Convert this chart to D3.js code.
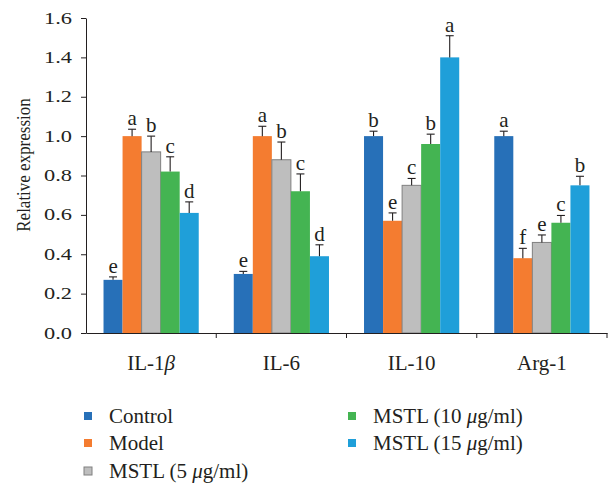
<!DOCTYPE html>
<html><head><meta charset="utf-8">
<script src="https://cdn.jsdelivr.net/npm/d3@7"></script>
<style>body{margin:0;background:#fff}svg{display:block}text{font-family:"Liberation Serif","DejaVu Serif",serif;fill:#231f20}</style>
</head><body><svg id="c" width="611" height="485"></svg>
<script>
const categories = ["IL-1β", "IL-6", "IL-10", "Arg-1"];
const seriesNames = ["Control", "Model", "MSTL (5 μg/ml)", "MSTL (10 μg/ml)", "MSTL (15 μg/ml)"];
const colors = ["#2770b8", "#f47c30", "#bebebe", "#44b452", "#1f9fd9"];
const control = [0.27, 0.30, 1.00, 1.00];
const model   = [1.00, 1.00, 0.57, 0.38];
const mstl5   = [0.92, 0.88, 0.75, 0.46];
const mstl10  = [0.82, 0.72, 0.96, 0.56];
const mstl15  = [0.61, 0.39, 1.40, 0.75];
const errControl = [0.015, 0.013, 0.025, 0.025];
const errModel   = [0.035, 0.05, 0.04, 0.05];
const errMstl5   = [0.08, 0.09, 0.035, 0.038];
const errMstl10  = [0.075, 0.088, 0.05, 0.037];
const errMstl15  = [0.056, 0.058, 0.11, 0.046];
const lettersControl = ["e", "e", "b", "a"];
const lettersModel   = ["a", "a", "e", "f"];
const lettersMstl5   = ["b", "b", "c", "e"];
const lettersMstl10  = ["c", "c", "b", "c"];
const lettersMstl15  = ["d", "d", "a", "b"];
const yTicks = [0, 0.2, 0.4, 0.6, 0.8, 1.0, 1.2, 1.4, 1.6];

const values = [control, model, mstl5, mstl10, mstl15];
const errs = [errControl, errModel, errMstl5, errMstl10, errMstl15];
const letters = [lettersControl, lettersModel, lettersMstl5, lettersMstl10, lettersMstl15];

const svg = d3.select("#c");
const x0 = d3.scaleBand().domain(categories).range([86, 607]).paddingInner(0).paddingOuter(0);
const x1 = d3.scaleBand().domain(seriesNames).range([0, x0.bandwidth()]).paddingOuter(0.92).paddingInner(0);
const y = d3.scaleLinear().domain([0, 1.6]).range([333, 18]);

// y axis
const yAxis = svg.append("g").attr("transform", "translate(86,0)")
  .call(d3.axisLeft(y).tickValues(yTicks).tickFormat(d3.format(".1f")).tickSize(5).tickSizeOuter(0));
yAxis.select(".domain").attr("stroke", "#231f20");
yAxis.selectAll(".tick line").attr("stroke", "#231f20");
yAxis.selectAll(".tick text").attr("font-size", 16).attr("x", -10).attr("transform", "scale(1.4,1)")
  .attr("font-family", "Liberation Serif").attr("fill", "#231f20");

// bars
const groups = svg.append("g").selectAll("g").data(categories).join("g")
  .attr("transform", d => `translate(${x0(d)},0)`);
seriesNames.forEach((s, si) => {
  groups.append("rect")
    .attr("x", x1(s)).attr("width", x1.bandwidth())
    .attr("y", (d, ci) => y(values[si][ci]))
    .attr("height", (d, ci) => y(0) - y(values[si][ci]))
    .attr("fill", colors[si])
    .attr("stroke", si === 2 ? "#808080" : "none").attr("stroke-width", 1);
  const cx = x1(s) + x1.bandwidth() / 2;
  groups.append("line").attr("x1", cx).attr("x2", cx)
    .attr("y1", (d, ci) => y(values[si][ci])).attr("y2", (d, ci) => y(values[si][ci] + errs[si][ci]))
    .attr("stroke", "#231f20").attr("stroke-width", 1.1);
  groups.append("line").attr("x1", cx - 4).attr("x2", cx + 4)
    .attr("y1", (d, ci) => y(values[si][ci] + errs[si][ci])).attr("y2", (d, ci) => y(values[si][ci] + errs[si][ci]))
    .attr("stroke", "#231f20").attr("stroke-width", 1.1);
  groups.append("text").attr("x", cx).attr("text-anchor", "middle")
    .attr("y", (d, ci) => y(values[si][ci] + errs[si][ci]) - 4)
    .attr("font-size", 21)
    .text((d, ci) => letters[si][ci]);
});

// x axis
const xAxis = svg.append("g").attr("transform", "translate(0,333)")
  .call(d3.axisBottom(x0).tickSize(0).tickSizeOuter(0).tickFormat(""));
xAxis.select(".domain").attr("stroke", "#231f20");
const bounds = categories.map(c => x0(c) + x0.bandwidth());
svg.append("g").selectAll("line").data(bounds).join("line")
  .attr("x1", d => d).attr("x2", d => d).attr("y1", 333).attr("y2", 338).attr("stroke", "#231f20");
svg.append("g").selectAll("text").data(categories).join("text")
  .attr("x", d => x0(d) + x0.bandwidth() / 2).attr("y", 370).attr("text-anchor", "middle")
  .attr("font-size", 21)
  .each(function(d) {
    const t = d3.select(this);
    if (d.endsWith("β")) {
      t.append("tspan").text(d.slice(0, -1));
      t.append("tspan").attr("font-style", "italic").text("β");
    } else t.text(d);
  });

// y title
svg.append("text").attr("transform", "translate(30,165) rotate(-90) scale(1,1.15)").attr("text-anchor", "middle")
  .attr("font-size", 17).text("Relative expression");

// legend
const legPos = [[84, 416], [84, 443], [84, 471], [348, 416], [348, 443]];
seriesNames.forEach((s, i) => {
  const [lx, ly] = legPos[i];
  svg.append("rect").attr("x", lx).attr("y", ly - 4).attr("width", 8).attr("height", 8)
    .attr("fill", colors[i]).attr("stroke", i === 2 ? "#808080" : "none");
  const t = svg.append("text").attr("x", lx + 25).attr("y", ly + 7).attr("font-size", 21);
  const m = s.match(/^(.*)μ(.*)$/);
  if (m) {
    t.append("tspan").text(m[1]);
    t.append("tspan").attr("font-style", "italic").text("μ");
    t.append("tspan").text(m[2]);
  } else t.text(s);
});
</script></body></html>
